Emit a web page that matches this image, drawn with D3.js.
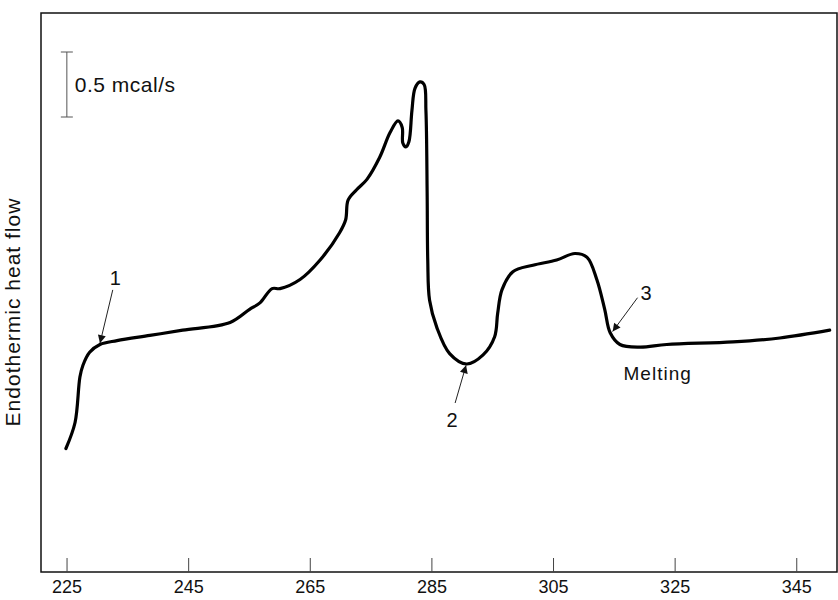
<!DOCTYPE html>
<html>
<head>
<meta charset="utf-8">
<script src="https://cdn.jsdelivr.net/npm/d3@7"></script>
<style>
  body { margin: 0; background: #fff; }
  text { font-family: "Liberation Sans", Arial, sans-serif; fill: #111; }
</style>
</head>
<body>
<div id="chart"></div>
<script>
// temperature (K)
const temps = [224.9, 226.4, 227.2, 227.7, 228.8, 230.5, 233.3, 238.7, 244.1, 251.9,
    255.1, 256.8, 258.8, 260.1, 263.4, 266.7, 269.9, 270.9, 271.3, 272.7,
    274.4, 276.5, 278.2, 279.5, 280.2, 280.3, 280.8, 281.3, 281.8, 282.3,
    283.1, 283.8, 284.1, 284.3, 284.4, 284.7, 285.9, 288.0, 290.8, 293.5,
    295.4, 295.9, 296.6, 298.4, 301.7, 305.6, 308.6, 310.6, 312.2, 313.5,
    314.4, 316.0, 319.3, 323.7, 334.6, 342.3, 350.5];
// heat flow (mcal/s, arbitrary zero)
const heatFlow = [0.95, 1.15, 1.50, 1.59, 1.69, 1.75, 1.78, 1.82, 1.86, 1.92,
    2.02, 2.07, 2.18, 2.18, 2.25, 2.40, 2.61, 2.71, 2.86, 2.94,
    3.02, 3.19, 3.38, 3.47, 3.42, 3.30, 3.27, 3.31, 3.55, 3.72,
    3.77, 3.75, 3.55, 2.92, 2.40, 2.09, 1.88, 1.68, 1.60, 1.67,
    1.81, 1.99, 2.17, 2.31, 2.36, 2.40, 2.45, 2.42, 2.25, 2.02,
    1.84, 1.75, 1.73, 1.75, 1.77, 1.80, 1.86];
const xTicks = [225, 245, 265, 285, 305, 325, 345];

// numbered arrows: label spot, arrow tail, arrow head
const markLabels = ["1", "2", "3"];
const markLabelAt = [[233.0, 2.26], [288.4, 1.17], [320.3, 2.15]];
const markTail = [[232.6, 2.17], [288.9, 1.30], [318.9, 2.11]];
const markHead = [[230.5, 1.76], [290.7, 1.59], [314.8, 1.85]];

const margin = { top: 13, right: 1, bottom: 28, left: 41 },
    width = 838 - margin.left - margin.right,
    height = 600 - margin.top - margin.bottom;

const svg = d3.select("#chart")
    .append("svg")
    .attr("width", 838)
    .attr("height", 600)
    .append("g")
    .attr("transform", "translate(" + margin.left + "," + margin.top + ")");

const x = d3.scaleLinear()
    .domain([220.8, 351.7])
    .range([0, width]);

const y = d3.scaleLinear()
    .domain([0, 4.3])
    .range([height, 0]);

svg.append("defs")
    .append("marker")
    .attr("id", "head")
    .attr("viewBox", "0 0 10 10")
    .attr("refX", 10)
    .attr("refY", 5)
    .attr("markerWidth", 10)
    .attr("markerHeight", 8)
    .attr("markerUnits", "userSpaceOnUse")
    .attr("orient", "auto")
    .append("path")
    .attr("d", "M0,0 L10,5 L0,10 Z")
    .attr("fill", "#111");

// frame
svg.append("rect")
    .attr("width", width)
    .attr("height", height)
    .attr("fill", "none")
    .attr("stroke", "#111")
    .attr("stroke-width", 1.5);

// bottom axis, ticks pointing inward
const xAxis = svg.append("g")
    .attr("transform", "translate(0," + height + ")")
    .call(d3.axisBottom(x)
        .tickValues(xTicks)
        .tickSize(-14)
        .tickPadding(8)
        .tickFormat(d3.format("d")));
xAxis.select(".domain").remove();
xAxis.selectAll(".tick line").attr("stroke", "#444").attr("stroke-width", 1);
xAxis.selectAll(".tick text")
    .attr("font-size", 18)
    .attr("font-family", "Liberation Sans, Arial, sans-serif")
    .attr("fill", "#111");

// y label
svg.append("text")
    .attr("transform", "rotate(-90)")
    .attr("x", -y(2.0))
    .attr("y", -21)
    .attr("text-anchor", "middle")
    .attr("font-size", 21)
    .attr("letter-spacing", 1)
    .text("Endothermic heat flow");

// 0.5 mcal/s scale bar
const barX = x(225.05);
const bar = svg.append("g").attr("stroke", "#555").attr("stroke-width", 1);
bar.append("line").attr("x1", barX).attr("x2", barX).attr("y1", y(4.0)).attr("y2", y(3.5));
bar.append("line").attr("x1", barX - 6).attr("x2", barX + 6).attr("y1", y(4.0)).attr("y2", y(4.0));
bar.append("line").attr("x1", barX - 6).attr("x2", barX + 6).attr("y1", y(3.5)).attr("y2", y(3.5));
svg.append("text")
    .attr("x", barX + 8)
    .attr("y", y(3.75))
    .attr("dy", "0.35em")
    .attr("font-size", 21)
    .attr("letter-spacing", 0.5)
    .text("0.5 mcal/s");

// the DSC trace
const trace = temps.map((t, i) => [t, heatFlow[i]]);
svg.append("path")
    .datum(trace)
    .attr("fill", "none")
    .attr("stroke", "#000")
    .attr("stroke-width", 3.2)
    .attr("stroke-linejoin", "round")
    .attr("stroke-linecap", "round")
    .attr("d", d3.line()
        .x(d => x(d[0]))
        .y(d => y(d[1]))
        .curve(d3.curveCatmullRom.alpha(0.5)));

// numbered arrows
const marks = svg.append("g");
marks.selectAll("line")
    .data(markLabels)
    .enter()
    .append("line")
    .attr("x1", (d, i) => x(markTail[i][0]))
    .attr("y1", (d, i) => y(markTail[i][1]))
    .attr("x2", (d, i) => x(markHead[i][0]))
    .attr("y2", (d, i) => y(markHead[i][1]))
    .attr("stroke", "#222")
    .attr("stroke-width", 1)
    .attr("marker-end", "url(#head)");
marks.selectAll("text")
    .data(markLabels)
    .enter()
    .append("text")
    .attr("x", (d, i) => x(markLabelAt[i][0]))
    .attr("y", (d, i) => y(markLabelAt[i][1]))
    .attr("dy", "0.35em")
    .attr("text-anchor", "middle")
    .attr("font-size", 20)
    .attr("font-family", d => d == "1" ? "Liberation Serif, serif" : null)
    .text(d => d);

svg.append("text")
    .attr("x", x(316.6))
    .attr("y", y(1.48))
    .attr("font-size", 19)
    .attr("letter-spacing", 1)
    .text("Melting");
</script>
</body>
</html>
